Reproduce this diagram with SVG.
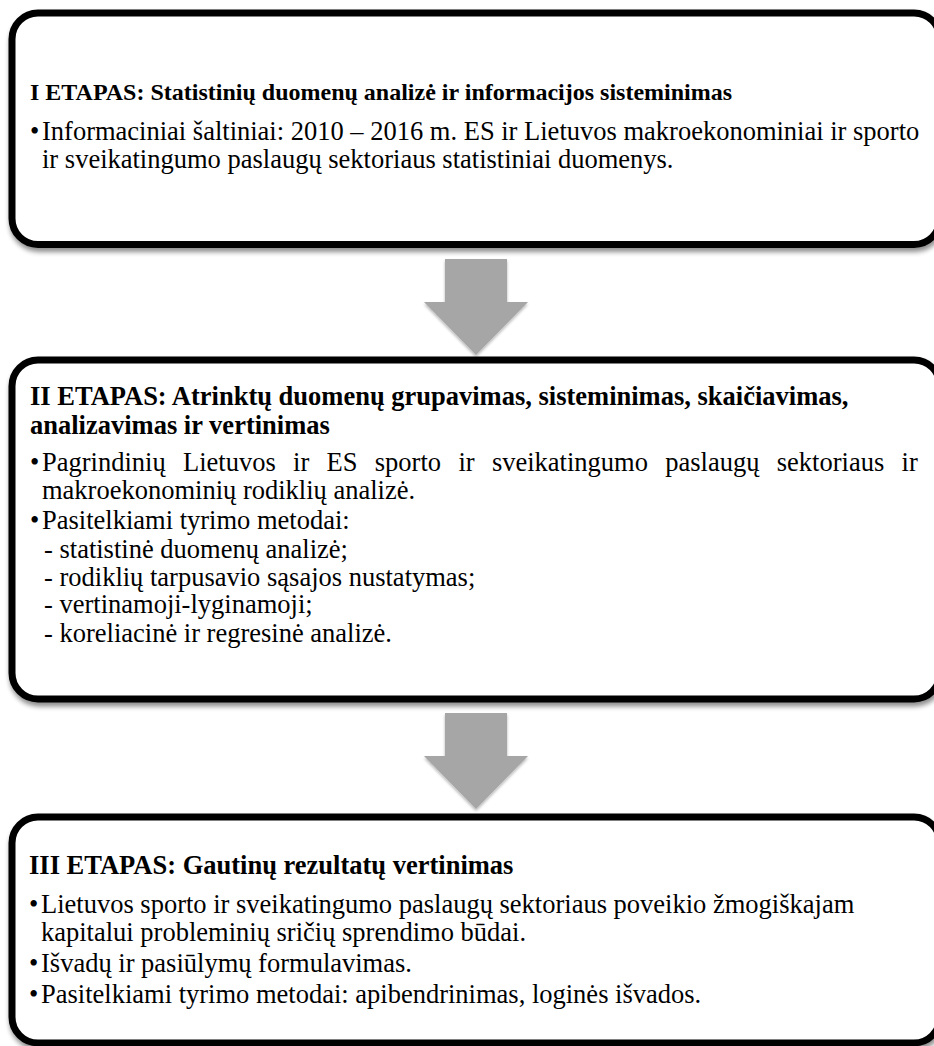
<svg xmlns="http://www.w3.org/2000/svg" width="934" height="1046" viewBox="0 0 934 1046">
<defs>
<filter id="sh" x="-5%" y="-5%" width="110%" height="115%">
<feGaussianBlur in="SourceAlpha" stdDeviation="2.5"/>
<feOffset dx="1" dy="4" result="b"/>
<feComponentTransfer><feFuncA type="linear" slope="0.45"/></feComponentTransfer>
<feMerge><feMergeNode/><feMergeNode in="SourceGraphic"/></feMerge>
</filter>
<filter id="ash" x="-20%" y="-20%" width="140%" height="140%">
<feGaussianBlur in="SourceAlpha" stdDeviation="1.5"/>
<feOffset dx="0" dy="2" result="b"/>
<feComponentTransfer><feFuncA type="linear" slope="0.3"/></feComponentTransfer>
<feMerge><feMergeNode/><feMergeNode in="SourceGraphic"/></feMerge>
</filter>
</defs>
<style>
.box{fill:#fff;stroke:#000;stroke-width:7}
.arr{fill:#a6a6a6}
text{font-family:"Liberation Serif","Times New Roman",serif;font-size:26.5px;fill:#000}
.h{font-weight:bold}
</style>
<rect width="934" height="1046" fill="#fff"/>
<g id="connectors">
<polygon class="arr" filter="url(#ash)" points="445,259 507,259 507,302 528,302 476,355 424,302 445,302"/>
<polygon class="arr" filter="url(#ash)" points="445,713 507,713 507,756 528,756 476,809 424,756 445,756"/>
</g>
<g id="stage1">
<rect class="box" filter="url(#sh)" x="12" y="13" width="928" height="231.5" rx="26"/>
<text class="h" x="30" y="100" style="font-size:24px">I ETAPAS: Statistinių duomenų analizė ir informacijos sisteminimas</text>
<text y="140"><tspan x="30">•</tspan><tspan x="42">Informaciniai šaltiniai: 2010 – 2016 m. ES ir Lietuvos makroekonominiai ir sporto</tspan></text>
<text x="42" y="168">ir sveikatingumo paslaugų sektoriaus statistiniai duomenys.</text>
</g>
<g id="stage2">
<rect class="box" filter="url(#sh)" x="12" y="360" width="928" height="339" rx="26"/>
<text class="h" x="30" y="405">II ETAPAS: Atrinktų duomenų grupavimas, sisteminimas, skaičiavimas,</text>
<text class="h" x="30" y="434">analizavimas ir vertinimas</text>
<text y="471"><tspan x="30">•</tspan><tspan x="42" word-spacing="10.7">Pagrindinių Lietuvos ir ES sporto ir sveikatingumo paslaugų sektoriaus ir</tspan></text>
<text x="42" y="499">makroekonominių rodiklių analizė.</text>
<text y="529"><tspan x="30">•</tspan><tspan x="42">Pasitelkiami tyrimo metodai:</tspan></text>
<text x="44" y="558">- statistinė duomenų analizė;</text>
<text x="44" y="586">- rodiklių tarpusavio sąsajos nustatymas;</text>
<text x="44" y="613">- vertinamoji-lyginamoji;</text>
<text x="44" y="642">- koreliacinė ir regresinė analizė.</text>
</g>
<g id="stage3">
<rect class="box" filter="url(#sh)" x="12" y="817" width="928" height="226" rx="26"/>
<text class="h" x="29" y="874">III ETAPAS: Gautinų rezultatų vertinimas</text>
<text y="913"><tspan x="29">•</tspan><tspan x="41">Lietuvos sporto ir sveikatingumo paslaugų sektoriaus poveikio žmogiškajam</tspan></text>
<text x="41" y="941">kapitalui probleminių sričių sprendimo būdai.</text>
<text y="972"><tspan x="29">•</tspan><tspan x="41">Išvadų ir pasiūlymų formulavimas.</tspan></text>
<text y="1003"><tspan x="29">•</tspan><tspan x="41">Pasitelkiami tyrimo metodai: apibendrinimas, loginės išvados.</tspan></text>
</g>
</svg>
